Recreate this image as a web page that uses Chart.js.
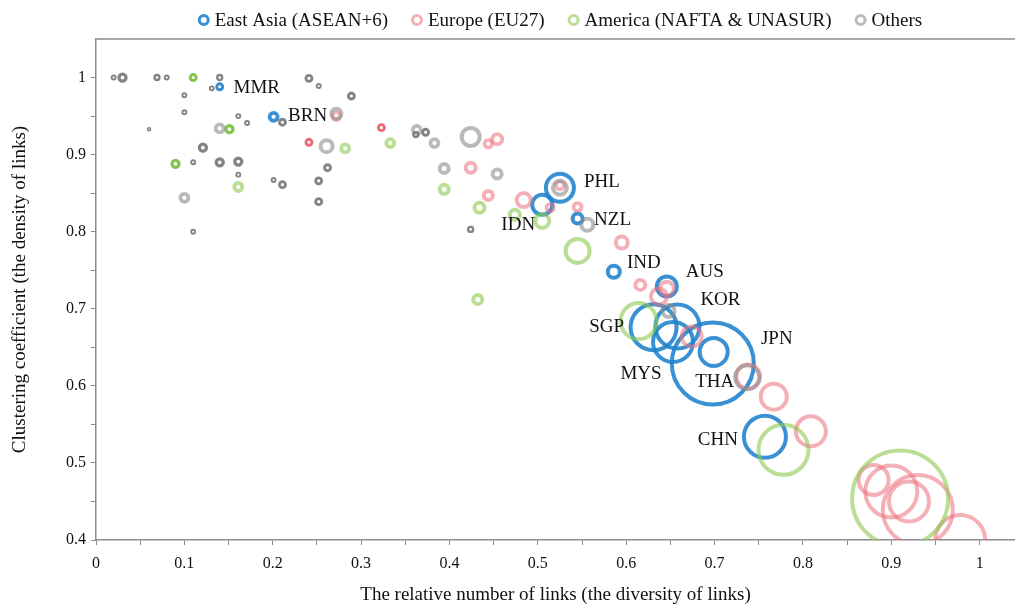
<!DOCTYPE html>
<html>
<head>
<meta charset="utf-8">
<title>Diversity and density of links</title>
<script src="https://cdn.jsdelivr.net/npm/chart.js@4.4.1/dist/chart.umd.min.js"></script>
<style>
  html, body { margin: 0; padding: 0; background: #fff; }
  #wrap { width: 1015px; height: 608px; }
</style>
</head>
<body>
<div id="wrap"><canvas id="bubbleChart"></canvas></div>
<script>
// East Asia (ASEAN+6)
const asiaCodes = ['MMR', 'BRN', 'IDN', 'PHL', 'NZL', 'IND', 'AUS', 'SGP', 'KOR', 'MYS', 'JPN', 'THA', 'CHN'];
const asiaX = [0.140, 0.201, 0.505, 0.525, 0.545, 0.586, 0.646, 0.631, 0.658, 0.653, 0.698, 0.699, 0.757];
const asiaY = [0.988, 0.949, 0.835, 0.857, 0.817, 0.748, 0.729, 0.676, 0.677, 0.657, 0.629, 0.644, 0.534];
const asiaR = [3, 4, 10, 14, 5, 6, 10, 23, 22, 20, 41, 14, 21];

// Europe (EU27)
const euX = [0.272, 0.241, 0.323, 0.444, 0.454, 0.424, 0.444, 0.484, 0.514, 0.525, 0.545, 0.595,
             0.616, 0.646, 0.637, 0.674, 0.738, 0.767, 0.809, 0.880, 0.900, 0.920, 0.930, 0.978];
const euY = [0.950, 0.916, 0.935, 0.914, 0.920, 0.883, 0.847, 0.841, 0.831, 0.860, 0.832, 0.786,
             0.731, 0.726, 0.716, 0.664, 0.612, 0.586, 0.541, 0.478, 0.463, 0.450, 0.439, 0.400];
const euR = [4, 3, 3, 3.8, 5, 5, 4.5, 7, 3.8, 4, 4, 6,
             5, 7, 8, 10, 12, 13, 15, 15, 26, 20, 35, 25];

// America (NAFTA & UNASUR)
const amX = [0.110, 0.151, 0.090, 0.161, 0.282, 0.333, 0.394, 0.434, 0.474, 0.505, 0.545, 0.614, 0.778, 0.910, 0.432];
const amY = [1.000, 0.933, 0.888, 0.858, 0.908, 0.915, 0.855, 0.831, 0.822, 0.814, 0.775, 0.684, 0.517, 0.454, 0.712];
const amR = [3, 3.5, 3.5, 4, 4, 4, 4.5, 5, 5, 7, 12, 18, 25, 48, 4.5];

// Others
const otherX = [0.020, 0.030, 0.069, 0.080, 0.140, 0.131, 0.100, 0.100, 0.060, 0.140, 0.161, 0.171, 0.211, 0.241,
                0.252, 0.272, 0.261, 0.121, 0.110, 0.140, 0.161, 0.161, 0.201, 0.211, 0.252, 0.262, 0.252, 0.100,
                0.110, 0.289, 0.363, 0.373, 0.362, 0.383, 0.424, 0.394, 0.454, 0.424, 0.525, 0.556, 0.648, 0.737];
const otherY = [1.000, 1.000, 1.000, 1.000, 1.000, 0.986, 0.977, 0.955, 0.933, 0.934, 0.950, 0.941, 0.942, 0.999,
                0.989, 0.953, 0.911, 0.909, 0.890, 0.890, 0.891, 0.874, 0.867, 0.861, 0.866, 0.883, 0.839, 0.844,
                0.800, 0.976, 0.932, 0.929, 0.926, 0.915, 0.923, 0.882, 0.875, 0.803, 0.857, 0.809, 0.697, 0.611];
const otherR = [2, 3.5, 2.5, 2, 2.5, 2, 2, 2, 1.5, 4, 2, 2, 3, 3,
                2, 5, 6, 3.5, 2, 3.5, 3.5, 2, 2, 3, 3, 3, 3, 4,
                2, 3, 4, 3, 2.5, 4, 9, 4.5, 4.5, 2.5, 7, 6, 6, 12];

// where each country code sits relative to its bubble (px)
const labelOffsets = {
  MMR: [37, 1], BRN: [34, -1], IDN: [-24, 20], PHL: [42, -6], NZL: [35, 1], IND: [30, -9],
  AUS: [38, -14], SGP: [-47, 0], KOR: [43, -26], MYS: [-32, 32], JPN: [64, -24], THA: [1, 30], CHN: [-47, 3]
};

const serif = '"Liberation Serif", "Times New Roman", Times, serif';

function toPoints(xs, ys, rs) {
  return xs.map((x, i) => ({ x: x, y: ys[i], r: rs[i] }));
}

// tiny bubbles come out darker and nearly solid, bigger ones as light rings
function ringColor(light, dark) {
  return ctx => (ctx.raw && ctx.raw.r < 3.8) ? dark : light;
}
function ringWidth(ctx) {
  const r = ctx.raw ? ctx.raw.r : 5;
  return Math.min(4, Math.max(1.6, r * 0.95));
}

function onStep(v, n) {
  return Math.abs(v * n - Math.round(v * n)) < 1e-6;
}

const series = [
  { label: 'East Asia (ASEAN+6)', pts: toPoints(asiaX, asiaY, asiaR), light: 'rgba(30,130,205,0.88)', dark: 'rgba(30,130,205,0.9)', legend: 'rgb(52,145,210)', order: 4 },
  { label: 'Europe (EU27)', pts: toPoints(euX, euY, euR), light: 'rgba(236,112,124,0.55)', dark: 'rgba(230,80,92,0.85)', legend: 'rgb(245,176,183)', order: 3 },
  { label: 'America (NAFTA & UNASUR)', pts: toPoints(amX, amY, amR), light: 'rgba(140,200,80,0.6)', dark: 'rgba(120,190,55,0.9)', legend: 'rgb(186,222,150)', order: 2 },
  { label: 'Others', pts: toPoints(otherX, otherY, otherR), light: 'rgba(140,140,140,0.6)', dark: 'rgba(110,110,110,0.85)', legend: 'rgb(186,186,186)', order: 1 }
];

const countryLabels = {
  id: 'countryLabels',
  afterDatasetsDraw(chart) {
    const { ctx, scales } = chart;
    ctx.save();
    ctx.font = '19px ' + serif;
    ctx.fillStyle = '#111';
    ctx.textAlign = 'center';
    ctx.textBaseline = 'middle';
    asiaCodes.forEach((code, i) => {
      const off = labelOffsets[code];
      ctx.fillText(code, scales.x.getPixelForValue(asiaX[i]) + off[0], scales.y.getPixelForValue(asiaY[i]) + off[1]);
    });
    ctx.restore();
  }
};

// ring markers + names along the top, centred over the plot
const topLegend = {
  id: 'topLegend',
  afterDraw(chart) {
    const ctx = chart.ctx;
    const markerGap = 11, itemGap = 29, cy = 20;
    ctx.save();
    ctx.font = '19px ' + serif;
    ctx.textBaseline = 'middle';
    ctx.textAlign = 'left';
    const widths = series.map(s => ctx.measureText(s.label).width);
    const total = widths.reduce((a, w) => a + markerGap + w, 0) + itemGap * (series.length - 1);
    let x = 563 - total / 2;
    series.forEach((s, i) => {
      ctx.beginPath();
      ctx.arc(x, cy, 4.5, 0, Math.PI * 2);
      ctx.lineWidth = 3;
      ctx.strokeStyle = s.legend;
      ctx.stroke();
      ctx.fillStyle = '#111';
      ctx.fillText(s.label, x + markerGap, cy + 1);
      x += markerGap + widths[i] + itemGap;
    });
    ctx.restore();
  }
};

// top edge of the plot box
const plotFrame = {
  id: 'plotFrame',
  beforeDatasetsDraw(chart) {
    const { ctx, chartArea: a } = chart;
    ctx.save();
    ctx.strokeStyle = '#8c8c8c';
    ctx.lineWidth = 1.5;
    ctx.beginPath();
    ctx.moveTo(a.left, a.top);
    ctx.lineTo(a.right, a.top);
    ctx.stroke();
    ctx.restore();
  }
};

const ctx = document.getElementById('bubbleChart').getContext('2d');

const bubbleChart = new Chart(ctx, {
  type: 'bubble',
  data: {
    datasets: series.map(s => ({
      label: s.label,
      data: s.pts,
      order: s.order,
      backgroundColor: 'rgba(0,0,0,0)',
      borderColor: ringColor(s.light, s.dark),
      borderWidth: ringWidth
    }))
  },
  options: {
    responsive: true,
    maintainAspectRatio: false,
    animation: false,
    events: [],
    layout: { autoPadding: false, padding: { top: 39, left: 0, right: 0, bottom: 0 } },
    plugins: {
      tooltip: { enabled: false },
      legend: { display: false }
    },
    scales: {
      x: {
        type: 'linear',
        min: 0,
        max: 1.04,
        afterBuildTicks: s => { s.ticks = s.ticks.filter(t => t.value <= 1.0001 && onStep(t.value, 20)); },
        afterFit: s => { s.height = 68; s.paddingLeft = 0; s.paddingRight = 0; },
        ticks: {
          stepSize: 0.05,
          includeBounds: false,
          autoSkip: false,
          maxRotation: 0,
          padding: 9,
          color: '#111',
          font: { family: serif, size: 16 },
          callback: v => onStep(v, 10) ? String(Math.round(v * 10) / 10) : ''
        },
        grid: { drawOnChartArea: false, drawTicks: true, tickLength: 5, color: '#8c8c8c' },
        border: { color: '#8c8c8c', width: 1.5 },
        title: {
          display: true,
          text: 'The relative number of links (the diversity of links)',
          color: '#111',
          font: { family: serif, size: 19 },
          padding: { top: 0, bottom: 2 }
        }
      },
      y: {
        type: 'linear',
        min: 0.4,
        max: 1.05,
        afterBuildTicks: s => { s.ticks = s.ticks.filter(t => t.value <= 1.0001 && onStep(t.value, 20)); },
        afterFit: s => { s.width = 96; s.paddingTop = 0; s.paddingBottom = 0; },
        ticks: {
          stepSize: 0.05,
          includeBounds: false,
          autoSkip: false,
          padding: 5,
          color: '#111',
          font: { family: serif, size: 16 },
          callback: v => onStep(v, 10) ? String(Math.round(v * 10) / 10) : ''
        },
        grid: { drawOnChartArea: false, drawTicks: true, tickLength: 5, color: '#8c8c8c' },
        border: { color: '#8c8c8c', width: 1.5 },
        title: {
          display: true,
          text: 'Clustering coefficient (the density of links)',
          color: '#111',
          font: { family: serif, size: 19 },
          padding: { top: 9, bottom: 0 }
        }
      }
    }
  },
  plugins: [plotFrame, countryLabels, topLegend]
});
</script>
</body>
</html>
